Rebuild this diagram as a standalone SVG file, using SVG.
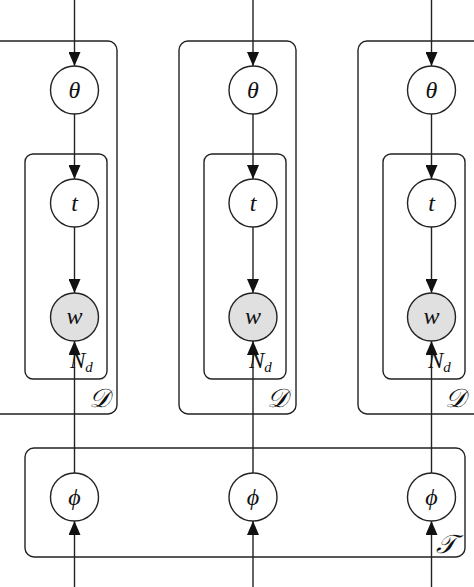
<svg xmlns="http://www.w3.org/2000/svg" width="474" height="587" viewBox="0 0 474 587">
<defs>
<marker id="arr" viewBox="0 0 14 12" refX="14" refY="6" markerWidth="14" markerHeight="12" markerUnits="userSpaceOnUse" orient="auto">
<path d="M0,0 L14,6 L0,12 Z" fill="#111"/>
</marker>
</defs>
<style>
.plate{fill:none;stroke:#222;stroke-width:1.4}
.node{fill:#fff;stroke:#222;stroke-width:1.4}
.obs{fill:#e0e0e0;stroke:#222;stroke-width:1.4}
.edge{stroke:#222;stroke-width:1.4;fill:none;marker-end:url(#arr)}
.lbl{font-family:"Liberation Serif","DejaVu Serif",serif;font-style:italic;font-size:24px;fill:#111;text-anchor:middle}
.pl{font-family:"Liberation Serif","DejaVu Serif",serif;font-style:italic;font-size:23px;fill:#111}
.sc{font-size:26px}
.sub{font-size:15px}
</style>
<rect width="474" height="587" fill="#fff"/>
<g id="plates">
<rect id="plate-D1" class="plate" x="-8" y="41" width="125" height="373" rx="9"/>
<rect id="plate-N1" class="plate" x="25" y="154" width="82" height="225" rx="8"/>
<rect id="plate-D2" class="plate" x="179" y="41" width="117" height="373" rx="9"/>
<rect id="plate-N2" class="plate" x="204" y="154" width="82" height="225" rx="8"/>
<rect id="plate-D3" class="plate" x="358" y="41" width="125" height="373" rx="9"/>
<rect id="plate-N3" class="plate" x="383" y="154" width="82" height="225" rx="8"/>
<rect id="plate-T" class="plate" x="25" y="448" width="440" height="109" rx="9"/>
</g>
<g id="connectors">
<line class="edge" x1="74.5" y1="0" x2="74.5" y2="66"/>
<line class="edge" x1="74.5" y1="114" x2="74.5" y2="179"/>
<line class="edge" x1="74.5" y1="227" x2="74.5" y2="293"/>
<line class="edge" x1="74.5" y1="473" x2="74.5" y2="341"/>
<line class="edge" x1="74.5" y1="587" x2="74.5" y2="521"/>
<line class="edge" x1="253" y1="0" x2="253" y2="66"/>
<line class="edge" x1="253" y1="114" x2="253" y2="179"/>
<line class="edge" x1="253" y1="227" x2="253" y2="293"/>
<line class="edge" x1="253" y1="473" x2="253" y2="341"/>
<line class="edge" x1="253" y1="587" x2="253" y2="521"/>
<line class="edge" x1="431.5" y1="0" x2="431.5" y2="66"/>
<line class="edge" x1="431.5" y1="114" x2="431.5" y2="179"/>
<line class="edge" x1="431.5" y1="227" x2="431.5" y2="293"/>
<line class="edge" x1="431.5" y1="473" x2="431.5" y2="341"/>
<line class="edge" x1="431.5" y1="587" x2="431.5" y2="521"/>
</g>
<g id="theta1"><circle class="node" cx="74.5" cy="90" r="24"/><text class="lbl" x="74.5" y="98">θ</text></g>
<g id="t1"><circle class="node" cx="74.5" cy="203" r="24"/><text class="lbl" x="74.5" y="211">t</text></g>
<g id="w1"><circle class="obs" cx="74.5" cy="317" r="24"/><text class="lbl" x="74.5" y="324">w</text></g>
<g id="theta2"><circle class="node" cx="253" cy="90" r="24"/><text class="lbl" x="253" y="98">θ</text></g>
<g id="t2"><circle class="node" cx="253" cy="203" r="24"/><text class="lbl" x="253" y="211">t</text></g>
<g id="w2"><circle class="obs" cx="253" cy="317" r="24"/><text class="lbl" x="253" y="324">w</text></g>
<g id="theta3"><circle class="node" cx="431.5" cy="90" r="24"/><text class="lbl" x="431.5" y="98">θ</text></g>
<g id="t3"><circle class="node" cx="431.5" cy="203" r="24"/><text class="lbl" x="431.5" y="211">t</text></g>
<g id="w3"><circle class="obs" cx="431.5" cy="317" r="24"/><text class="lbl" x="431.5" y="324">w</text></g>
<g id="phi1"><circle class="node" cx="74.5" cy="497" r="24"/><text class="lbl" x="74.5" y="505">ϕ</text></g>
<g id="phi2"><circle class="node" cx="253" cy="497" r="24"/><text class="lbl" x="253" y="505">ϕ</text></g>
<g id="phi3"><circle class="node" cx="431.5" cy="497" r="24"/><text class="lbl" x="431.5" y="505">ϕ</text></g>
<g id="labels">
<text class="pl" x="70" y="368">N<tspan class="sub" dy="4">d</tspan></text>
<text class="pl" x="249" y="368">N<tspan class="sub" dy="4">d</tspan></text>
<text class="pl" x="428" y="368">N<tspan class="sub" dy="4">d</tspan></text>
<text class="pl sc" x="89" y="407">𝒟</text>
<text class="pl sc" x="267" y="407">𝒟</text>
<text class="pl sc" x="445" y="407">𝒟</text>
<text class="pl sc" x="436" y="553">𝒯</text>
</g>
</svg>
